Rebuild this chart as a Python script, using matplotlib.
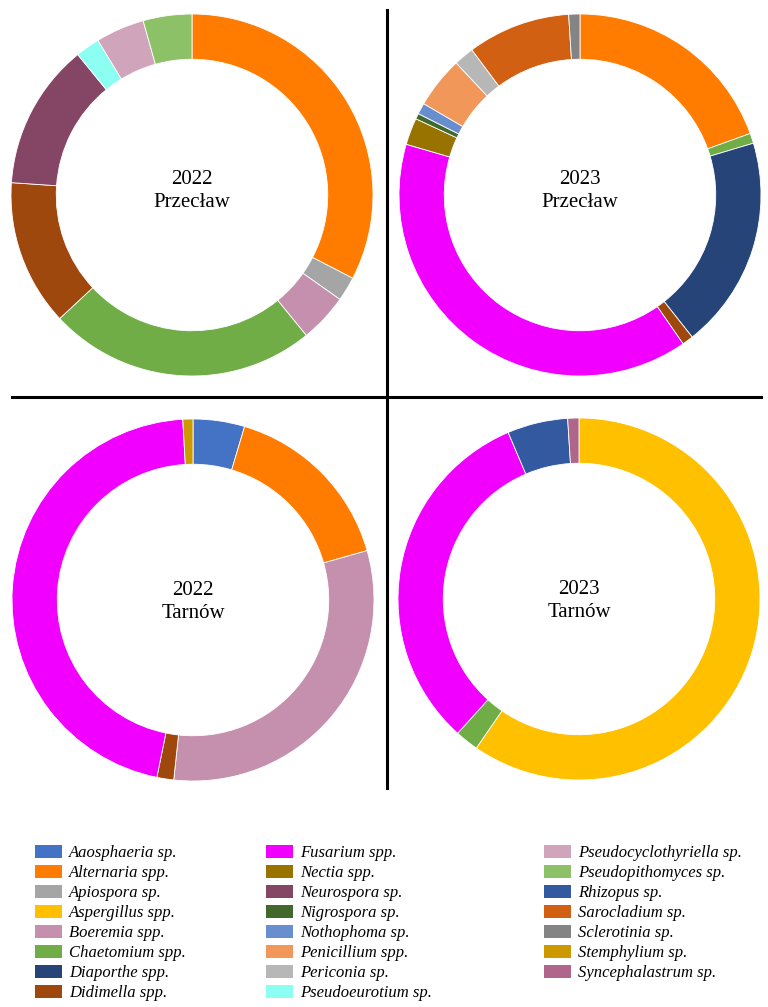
import matplotlib
matplotlib.use("Agg")
import matplotlib.pyplot as plt
from matplotlib.patches import Patch
from matplotlib.lines import Line2D

plt.rcParams['font.family'] = ['Liberation Serif', 'DejaVu Serif']

# ---- data ----
taxa = ["Aaosphaeria sp.", "Alternaria spp.", "Apiospora sp.", "Aspergillus spp.",
        "Boeremia spp.", "Chaetomium spp.", "Diaporthe spp.", "Didimella spp.",
        "Fusarium spp.", "Nectia spp.", "Neurospora sp.", "Nigrospora sp.",
        "Nothophoma sp.", "Penicillium spp.", "Periconia sp.", "Pseudoeurotium sp.",
        "Pseudocyclothyriella sp.", "Pseudopithomyces sp.", "Rhizopus sp.",
        "Sarocladium sp.", "Sclerotinia sp.", "Stemphylium sp.", "Syncephalastrum sp."]
colors = ["#4472C4", "#FF7C00", "#A5A5A5", "#FFC000",
          "#C490AE", "#70AD47", "#264478", "#9E480E",
          "#F200FF", "#997300", "#854666", "#43682B",
          "#698ED0", "#F1975A", "#B7B7B7", "#8CFFF2",
          "#D0A4BA", "#8CC168", "#335AA1",
          "#D26012", "#848484", "#CC9A00", "#B0668A"]

p2022_taxa = ["Alternaria spp.", "Apiospora sp.", "Boeremia spp.", "Chaetomium spp.",
              "Didimella spp.", "Neurospora sp.", "Pseudoeurotium sp.",
              "Pseudocyclothyriella sp.", "Pseudopithomyces sp."]
p2022_vals = [15, 1, 2, 11, 6, 6, 1, 2, 2]

p2023_taxa = ["Alternaria spp.", "Chaetomium spp.", "Diaporthe spp.", "Didimella spp.",
              "Fusarium spp.", "Nectia spp.", "Nigrospora sp.", "Nothophoma sp.",
              "Penicillium spp.", "Periconia sp.", "Sarocladium sp.", "Sclerotinia sp."]
p2023_vals = [19.5, 0.9, 19.0, 1.0, 39.2, 2.4, 0.5, 1.0, 4.6, 1.8, 9.2, 1.0]

t2022_taxa = ["Aaosphaeria sp.", "Alternaria spp.", "Boeremia spp.", "Didimella spp.",
              "Fusarium spp.", "Stemphylium sp."]
t2022_vals = [4.6, 16.0, 31.1, 1.5, 45.9, 0.9]

t2023_taxa = ["Aspergillus spp.", "Chaetomium spp.", "Fusarium spp.", "Rhizopus sp.",
              "Syncephalastrum sp."]
t2023_vals = [59.6, 2.1, 31.9, 5.4, 1.0]

titles = ["2022\nPrzecław", "2023\nPrzecław", "2022\nTarnów", "2023\nTarnów"]

cmap = dict(zip(taxa, colors))

W, H = 768, 1007
fig = plt.figure(figsize=(W / 100, H / 100), dpi=100)

def px_axes(cx, cy, r):
    return fig.add_axes([(cx - r) / W, 1 - (cy + r) / H, 2 * r / W, 2 * r / H])

panels = [
    ((192, 195), p2022_taxa, p2022_vals, titles[0], 0.02),
    ((580, 195), p2023_taxa, p2023_vals, titles[1], 0.02),
    ((193, 600), t2022_taxa, t2022_vals, titles[2], -0.01),
    ((579, 599), t2023_taxa, t2023_vals, titles[3], -0.01),
]
for (cx, cy), tx, vals, title, dy in panels:
    ax = px_axes(cx, cy, 181)
    ax.pie(vals, colors=[cmap[t] for t in tx], startangle=90, counterclock=False,
           radius=1.0, wedgeprops=dict(width=0.25, edgecolor="white", linewidth=0.6))
    ax.set_xlim(-1, 1)
    ax.set_ylim(-1, 1)
    ax.text(0, dy, title, ha="center", va="center", fontsize=15, linespacing=1.3)

# divider lines
fig.add_artist(Line2D([387 / W, 387 / W], [1 - 10 / H, 1 - 788 / H],
                      color="black", linewidth=2.2))
fig.add_artist(Line2D([12 / W, 761 / W], [1 - 397 / H, 1 - 397 / H],
                      color="black", linewidth=2.2))

# legend in three columns
handles = [Patch(facecolor=c, edgecolor="none") for c in colors]
cols = [(0, 8, 30), (8, 16, 261), (16, 23, 539)]
for a, b, x in cols:
    leg = fig.legend(handles[a:b], taxa[a:b], loc="upper left",
                     bbox_to_anchor=(x / W, 1 - 840 / H), frameon=False,
                     prop=dict(family=['Liberation Serif'], style='italic', size=12),
                     handlelength=1.6, handleheight=0.8, handletextpad=0.45,
                     labelspacing=0.23, borderaxespad=0, borderpad=0.3)

fig.savefig("out.png", dpi=100)
